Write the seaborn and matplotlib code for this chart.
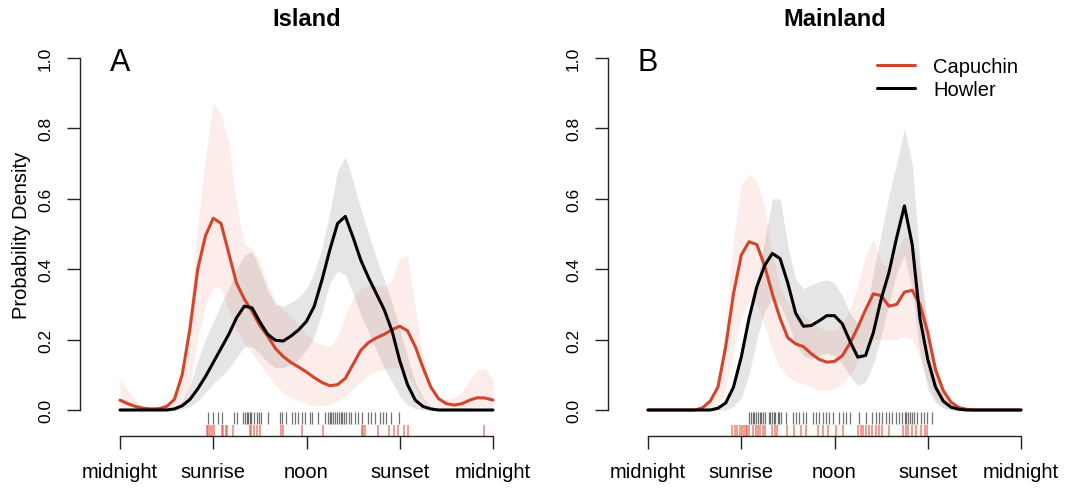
import numpy as np
import matplotlib
matplotlib.use("Agg")
import matplotlib.pyplot as plt
import seaborn as sns

# ---------------- data (hours of day, 0 = midnight) ----------------
hours = np.arange(0, 24.5, 0.5)
tick_hours = [0, 6, 12, 18, 24]
tick_labels = ["midnight", "sunrise", "noon", "sunset", "midnight"]
panel_titles = ["Island", "Mainland"]
panel_letters = ["A", "B"]
series_names = ["Capuchin", "Howler"]

# Island - capuchin
cap_A_mean = [0.028, 0.018, 0.010, 0.005, 0.003, 0.004, 0.010, 0.030, 0.100, 0.230,
              0.400, 0.495, 0.545, 0.530, 0.445, 0.360, 0.315, 0.280, 0.240, 0.210,
              0.175, 0.152, 0.135, 0.122, 0.108, 0.092, 0.078, 0.069, 0.072, 0.090,
              0.130, 0.170, 0.192, 0.205, 0.215, 0.228, 0.238, 0.225, 0.180, 0.120,
              0.065, 0.032, 0.018, 0.014, 0.018, 0.028, 0.035, 0.034, 0.028]
cap_A_hi = [0.088, 0.055, 0.030, 0.012, 0.006, 0.006, 0.015, 0.040, 0.120, 0.300,
            0.520, 0.720, 0.870, 0.840, 0.760, 0.580, 0.470, 0.460, 0.420, 0.360,
            0.310, 0.285, 0.265, 0.240, 0.215, 0.195, 0.185, 0.180, 0.210, 0.270,
            0.320, 0.345, 0.355, 0.355, 0.350, 0.370, 0.430, 0.440, 0.290, 0.150,
            0.070, 0.035, 0.030, 0.035, 0.050, 0.085, 0.115, 0.118, 0.088]
cap_A_lo = [0.0, 0.0, 0.0, 0.0, 0.0, 0.0, 0.0, 0.003, 0.015, 0.070,
            0.200, 0.300, 0.350, 0.345, 0.280, 0.230, 0.190, 0.160, 0.130, 0.100,
            0.070, 0.050, 0.035, 0.025, 0.017, 0.012, 0.012, 0.015, 0.025, 0.040,
            0.060, 0.080, 0.100, 0.110, 0.115, 0.120, 0.120, 0.100, 0.060, 0.025,
            0.008, 0.003, 0.002, 0.002, 0.003, 0.005, 0.008, 0.008, 0.006]
# Island - howler
how_A_mean = [0.0, 0.0, 0.0, 0.0, 0.0, 0.0, 0.0, 0.003, 0.012, 0.030,
              0.060, 0.095, 0.135, 0.175, 0.215, 0.262, 0.295, 0.290, 0.250, 0.215,
              0.198, 0.196, 0.210, 0.228, 0.252, 0.295, 0.370, 0.455, 0.530, 0.550,
              0.490, 0.425, 0.375, 0.330, 0.285, 0.225, 0.140, 0.072, 0.028, 0.010,
              0.003, 0.0, 0.0, 0.0, 0.0, 0.0, 0.0, 0.0, 0.0]
how_A_hi = [0.0, 0.0, 0.0, 0.0, 0.0, 0.0, 0.0, 0.008, 0.025, 0.070,
            0.140, 0.200, 0.250, 0.300, 0.345, 0.400, 0.440, 0.450, 0.400, 0.340,
            0.300, 0.295, 0.305, 0.320, 0.345, 0.390, 0.460, 0.560, 0.680, 0.720,
            0.650, 0.570, 0.500, 0.430, 0.370, 0.305, 0.230, 0.150, 0.080, 0.035,
            0.010, 0.003, 0.0, 0.0, 0.0, 0.0, 0.0, 0.0, 0.0]
how_A_lo = [0.0, 0.0, 0.0, 0.0, 0.0, 0.0, 0.0, 0.0, 0.002, 0.010,
            0.025, 0.050, 0.075, 0.095, 0.118, 0.150, 0.180, 0.180, 0.160, 0.135,
            0.120, 0.120, 0.130, 0.145, 0.170, 0.210, 0.280, 0.360, 0.395, 0.385,
            0.330, 0.270, 0.220, 0.170, 0.120, 0.080, 0.040, 0.015, 0.004, 0.0,
            0.0, 0.0, 0.0, 0.0, 0.0, 0.0, 0.0, 0.0, 0.0]

# Mainland - capuchin
cap_B_mean = [0.0, 0.0, 0.0, 0.0, 0.0, 0.0, 0.0, 0.006, 0.025, 0.065,
              0.180, 0.330, 0.440, 0.478, 0.470, 0.410, 0.330, 0.260, 0.205, 0.188,
              0.180, 0.160, 0.144, 0.136, 0.138, 0.154, 0.190, 0.235, 0.285, 0.330,
              0.325, 0.295, 0.300, 0.335, 0.340, 0.300, 0.220, 0.115, 0.055, 0.022,
              0.007, 0.002, 0.0, 0.0, 0.0, 0.0, 0.0, 0.0, 0.0]
cap_B_hi = [0.0, 0.0, 0.0, 0.0, 0.0, 0.0, 0.0, 0.010, 0.035, 0.080,
            0.250, 0.485, 0.640, 0.670, 0.650, 0.580, 0.440, 0.350, 0.300, 0.280,
            0.270, 0.250, 0.235, 0.225, 0.225, 0.245, 0.290, 0.350, 0.440, 0.485,
            0.420, 0.400, 0.450, 0.495, 0.490, 0.400, 0.260, 0.130, 0.060, 0.020,
            0.006, 0.002, 0.0, 0.0, 0.0, 0.0, 0.0, 0.0, 0.0]
cap_B_lo = [0.0, 0.0, 0.0, 0.0, 0.0, 0.0, 0.0, 0.0, 0.0, 0.0,
            0.060, 0.170, 0.260, 0.310, 0.300, 0.240, 0.170, 0.120, 0.095, 0.080,
            0.075, 0.065, 0.055, 0.055, 0.060, 0.075, 0.100, 0.140, 0.180, 0.200,
            0.200, 0.200, 0.200, 0.210, 0.200, 0.150, 0.080, 0.030, 0.010, 0.0,
            0.0, 0.0, 0.0, 0.0, 0.0, 0.0, 0.0, 0.0, 0.0]
# Mainland - howler
how_B_mean = [0.0, 0.0, 0.0, 0.0, 0.0, 0.0, 0.0, 0.0, 0.0, 0.005,
              0.020, 0.065, 0.150, 0.260, 0.350, 0.410, 0.445, 0.430, 0.360, 0.275,
              0.238, 0.240, 0.253, 0.268, 0.268, 0.245, 0.195, 0.150, 0.155, 0.220,
              0.315, 0.390, 0.490, 0.580, 0.470, 0.260, 0.144, 0.065, 0.025, 0.008,
              0.002, 0.0, 0.0, 0.0, 0.0, 0.0, 0.0, 0.0, 0.0]
how_B_hi = [0.0, 0.0, 0.0, 0.0, 0.0, 0.0, 0.0, 0.0, 0.0, 0.008,
            0.030, 0.078, 0.160, 0.250, 0.350, 0.485, 0.600, 0.600, 0.466, 0.370,
            0.345, 0.355, 0.365, 0.370, 0.360, 0.325, 0.275, 0.245, 0.270, 0.390,
            0.500, 0.610, 0.700, 0.800, 0.700, 0.420, 0.220, 0.110, 0.045, 0.015,
            0.004, 0.0, 0.0, 0.0, 0.0, 0.0, 0.0, 0.0, 0.0]
how_B_lo = [0.0, 0.0, 0.0, 0.0, 0.0, 0.0, 0.0, 0.0, 0.0, 0.0,
            0.0, 0.010, 0.035, 0.100, 0.200, 0.280, 0.315, 0.300, 0.250, 0.190,
            0.155, 0.145, 0.155, 0.162, 0.155, 0.130, 0.097, 0.070, 0.080, 0.130,
            0.210, 0.300, 0.390, 0.440, 0.340, 0.160, 0.060, 0.020, 0.005, 0.0,
            0.0, 0.0, 0.0, 0.0, 0.0, 0.0, 0.0, 0.0, 0.0]

# observation times (rug)
how_A_obs = [5.64, 6.0, 6.28, 6.54, 7.35, 7.5, 7.93, 8.04, 8.14, 8.25, 8.36, 8.46, 8.64,
             8.79, 8.94, 9.1, 9.5, 10.29, 10.44, 10.71, 11.04, 11.25, 11.46, 11.68, 11.89,
             12.21, 12.36, 12.71, 13.22, 13.39, 13.5, 13.6, 13.71, 13.86, 13.99, 14.1,
             14.2, 14.31, 14.42, 14.57, 14.72, 14.89, 15.1, 15.32, 15.54, 15.96, 16.18,
             16.39, 16.71, 16.93, 17.14, 17.46, 17.94]
cap_A_obs = [5.57, 5.68, 5.79, 5.89, 6.06, 6.54, 6.64, 6.79, 6.86, 7.29, 8.36, 8.46, 8.64,
             8.79, 9.0, 10.39, 10.5, 11.68, 13.07, 15.54, 15.64, 15.75, 16.63, 17.3,
             17.6, 17.9, 18.26, 18.56, 23.42]
how_B_obs = [6.53, 6.64, 6.75, 6.85, 6.96, 7.07, 7.18, 7.28, 7.39, 7.54, 7.77, 7.88, 7.99,
             8.09, 8.2, 8.35, 8.46, 8.56, 8.88, 9.31, 9.53, 9.74, 9.95, 10.17, 10.59, 10.81,
             11.02, 11.24, 11.45, 11.66, 11.88, 12.3, 12.52, 12.73, 12.99, 13.59, 14.01,
             14.44, 14.65, 14.87, 15.08, 15.29, 15.51, 15.72, 15.94, 16.15, 16.36, 16.53,
             16.62, 16.75, 16.83, 16.96, 17.11, 17.32, 17.54, 17.75, 17.97, 18.29]
cap_B_obs = [5.42, 5.57, 5.72, 5.89, 6.06, 6.17, 6.28, 6.36, 6.49, 6.75, 6.92, 7.07, 7.22,
             7.39, 7.5, 7.99, 8.14, 8.29, 8.93, 9.42, 9.85, 10.17, 10.91, 11.24, 11.56,
             12.09, 12.56, 13.54, 13.69, 13.84, 14.01, 14.23, 14.44, 14.65, 14.87, 15.04,
             15.51, 16.41, 16.58, 16.75, 17.0, 17.22, 17.54, 17.82, 17.97]

# ---------------- styling ----------------
sns.set_style("ticks")
plt.rcParams['font.family'] = ['Liberation Sans', 'DejaVu Sans']
plt.rcParams['text.color'] = 'black'
plt.rcParams['axes.labelcolor'] = 'black'
plt.rcParams['xtick.color'] = 'black'
plt.rcParams['ytick.color'] = 'black'
plt.rcParams['lines.solid_joinstyle'] = 'round'

RED = "#D2452C"
RED_FILL = "#E8503A"
RUG_RED = "#E0503A"

W, H = 1065, 489
fig = plt.figure(figsize=(W / 100, H / 100), dpi=100)

Y0, Y1 = 411, 59          # pixel rows of density 0 and 1
BOT, TOP = 437, 50        # axes bottom / top pixel rows


def make_ax(spine_x, h0, h24, right):
    ppu = (h24 - h0) / 24.0
    ax = fig.add_axes([spine_x / W, 1 - BOT / H, (right - spine_x) / W, (BOT - TOP) / H])
    ax.set_xlim((spine_x - h0) / ppu, 24 + (right - h24) / ppu)
    ppy = Y0 - Y1
    ax.set_ylim(-(BOT - Y0) / ppy, 1 + (Y1 - TOP) / ppy)
    return ax


panels = [
    dict(ax=make_ax(80, 120, 493, 525), cm=cap_A_mean, ch=cap_A_hi, cl=cap_A_lo,
         hm=how_A_mean, hh=how_A_hi, hl=how_A_lo, co=cap_A_obs, ho=how_A_obs),
    dict(ax=make_ax(608, 648, 1021, 1055), cm=cap_B_mean, ch=cap_B_hi, cl=cap_B_lo,
         hm=how_B_mean, hh=how_B_hi, hl=how_B_lo, co=cap_B_obs, ho=how_B_obs),
]

for i, p in enumerate(panels):
    ax = p["ax"]
    ax.fill_between(hours, p["hl"], p["hh"], color="black", alpha=0.10, lw=0)
    ax.fill_between(hours, p["cl"], p["ch"], color=RED_FILL, alpha=0.10, lw=0)
    sns.lineplot(x=hours, y=p["cm"], color=RED, linewidth=2.2, ax=ax,
                 label=series_names[0], legend=False)
    sns.lineplot(x=hours, y=p["hm"], color="black", linewidth=2.2, ax=ax,
                 label=series_names[1], legend=False)
    ax.vlines(p["ho"], -0.006, -0.040, colors="black", alpha=0.55, lw=0.9)
    ax.vlines(p["co"], -0.043, -0.074, colors=RUG_RED, alpha=0.7, lw=1.1)

    for s in ["top", "right"]:
        ax.spines[s].set_visible(False)
    ax.spines["left"].set_bounds(0, 1)
    ax.spines["bottom"].set_bounds(0, 24)
    for s in ["left", "bottom"]:
        ax.spines[s].set_linewidth(1.0)
        ax.spines[s].set_color("#222222")

    ax.set_yticks([0, 0.2, 0.4, 0.6, 0.8, 1.0])
    ax.set_yticklabels(["0.0", "0.2", "0.4", "0.6", "0.8", "1.0"], rotation=90, va="center")
    ax.set_xticks(tick_hours)
    ax.set_xticklabels(tick_labels)
    ax.tick_params(axis="y", length=9.5, width=1.0, labelsize=12.5, pad=10, color="#222222")
    ax.tick_params(axis="x", length=9.5, width=1.0, labelsize=14.5, pad=9, color="#222222")
    ax.set_xlabel("")
    ax.set_ylabel("")

    xc = [307, 835][i]
    fig.text(xc / W, 1 - 20 / H, panel_titles[i], fontsize=17, fontweight="bold",
             ha="center", va="center")
    fig.text([110, 638][i] / W, 1 - 63 / H, panel_letters[i], fontsize=22,
             ha="left", va="center")

fig.text(22 / W, 1 - 235 / H, "Probability Density", rotation=90, fontsize=14.5,
         ha="center", va="center")

axB = panels[1]["ax"]
handles, labels = axB.get_legend_handles_labels()
axB.legend(handles[:2], labels[:2], loc="upper left", bbox_to_anchor=(877 / W, 1 - 58 / H),
           bbox_transform=fig.transFigure, frameon=False, fontsize=14.5,
           handlelength=1.9, handletextpad=0.9, labelspacing=0.2, borderpad=0,
           borderaxespad=0)

fig.savefig("out.png", dpi=100)
